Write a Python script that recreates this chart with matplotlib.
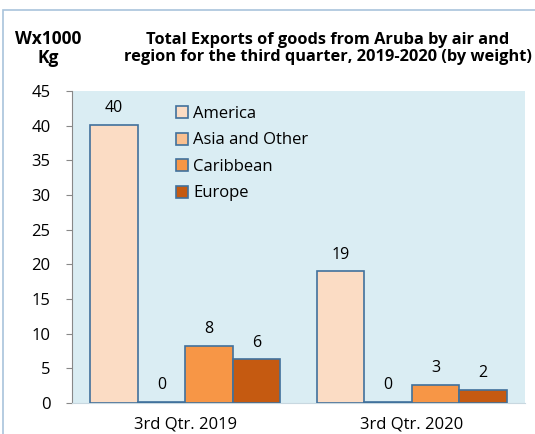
import numpy as np
import matplotlib.pyplot as plt
from matplotlib.patches import Rectangle

plt.rcParams['font.family'] = ['Open Sans', 'DejaVu Sans']

quarters = ['3rd Qtr. 2019', '3rd Qtr. 2020']
regions = ['America', 'Asia and Other', 'Caribbean', 'Europe']
values = {
    'America': [40.1, 19.0],
    'Asia and Other': [0.2, 0.2],
    'Caribbean': [8.2, 2.6],
    'Europe': [6.3, 1.9],
}
labels = {
    'America': ['40', '19'],
    'Asia and Other': ['0', '0'],
    'Caribbean': ['8', '3'],
    'Europe': ['6', '2'],
}
colors = ['#FBDCC4', '#FAC090', '#F79646', '#C55A11']

fig = plt.figure(figsize=(5.35, 4.34), dpi=100)
ax = fig.add_axes([72 / 535, 31 / 434, 453 / 535, 312 / 434])
ax.set_facecolor('#DAEDF3')

x = np.arange(len(quarters))
w = 0.21
for i, r in enumerate(regions):
    pos = x + (i - 1.5) * w
    bars = ax.bar(pos, values[r], w, color=colors[i], edgecolor='#41719C',
                  linewidth=1.2, label=r, zorder=3)
    for b, t in zip(bars, labels[r]):
        ax.text(b.get_x() + b.get_width() / 2, b.get_height() + 1.25, t,
                ha='center', va='bottom', fontsize=11.5)

ax.set_xlim(-0.5, 1.5)
ax.set_ylim(0, 45)
ax.set_yticks(range(0, 46, 5))
ax.set_xticks(x)
ax.set_xticklabels(quarters, fontsize=12)
ax.tick_params(axis='y', labelsize=12, length=4.5, color='#888888', direction='out', pad=11)
ax.tick_params(axis='x', length=0, pad=10)
for s in ['top', 'right']:
    ax.spines[s].set_visible(False)
ax.spines['left'].set_color('#888888')
ax.spines['bottom'].set_color('#C8D8E0')

ax.legend(loc='upper left', bbox_to_anchor=(0.2, 0.995), frameon=False,
          fontsize=12, handlelength=0.72, handleheight=0.72, handletextpad=0.3,
          labelspacing=0.63, borderpad=0.3)

fig.text(0.613, 0.888, 'Total Exports of goods from Aruba by air and\nregion for the third quarter, 2019-2020 (by weight)',
         ha='center', va='center', fontsize=11.8, fontweight='bold', linespacing=1.05)
fig.text(0.091, 0.888, 'Wx1000\nKg', ha='center', va='center', fontsize=12.5,
         fontweight='bold', linespacing=1.1)

fig.patches.append(Rectangle((3 / 535, -5 / 434), 540 / 535, 429 / 434, transform=fig.transFigure,
                             fill=False, edgecolor='#A9C4DC', linewidth=1.2))

fig.savefig('out.png', dpi=100)
